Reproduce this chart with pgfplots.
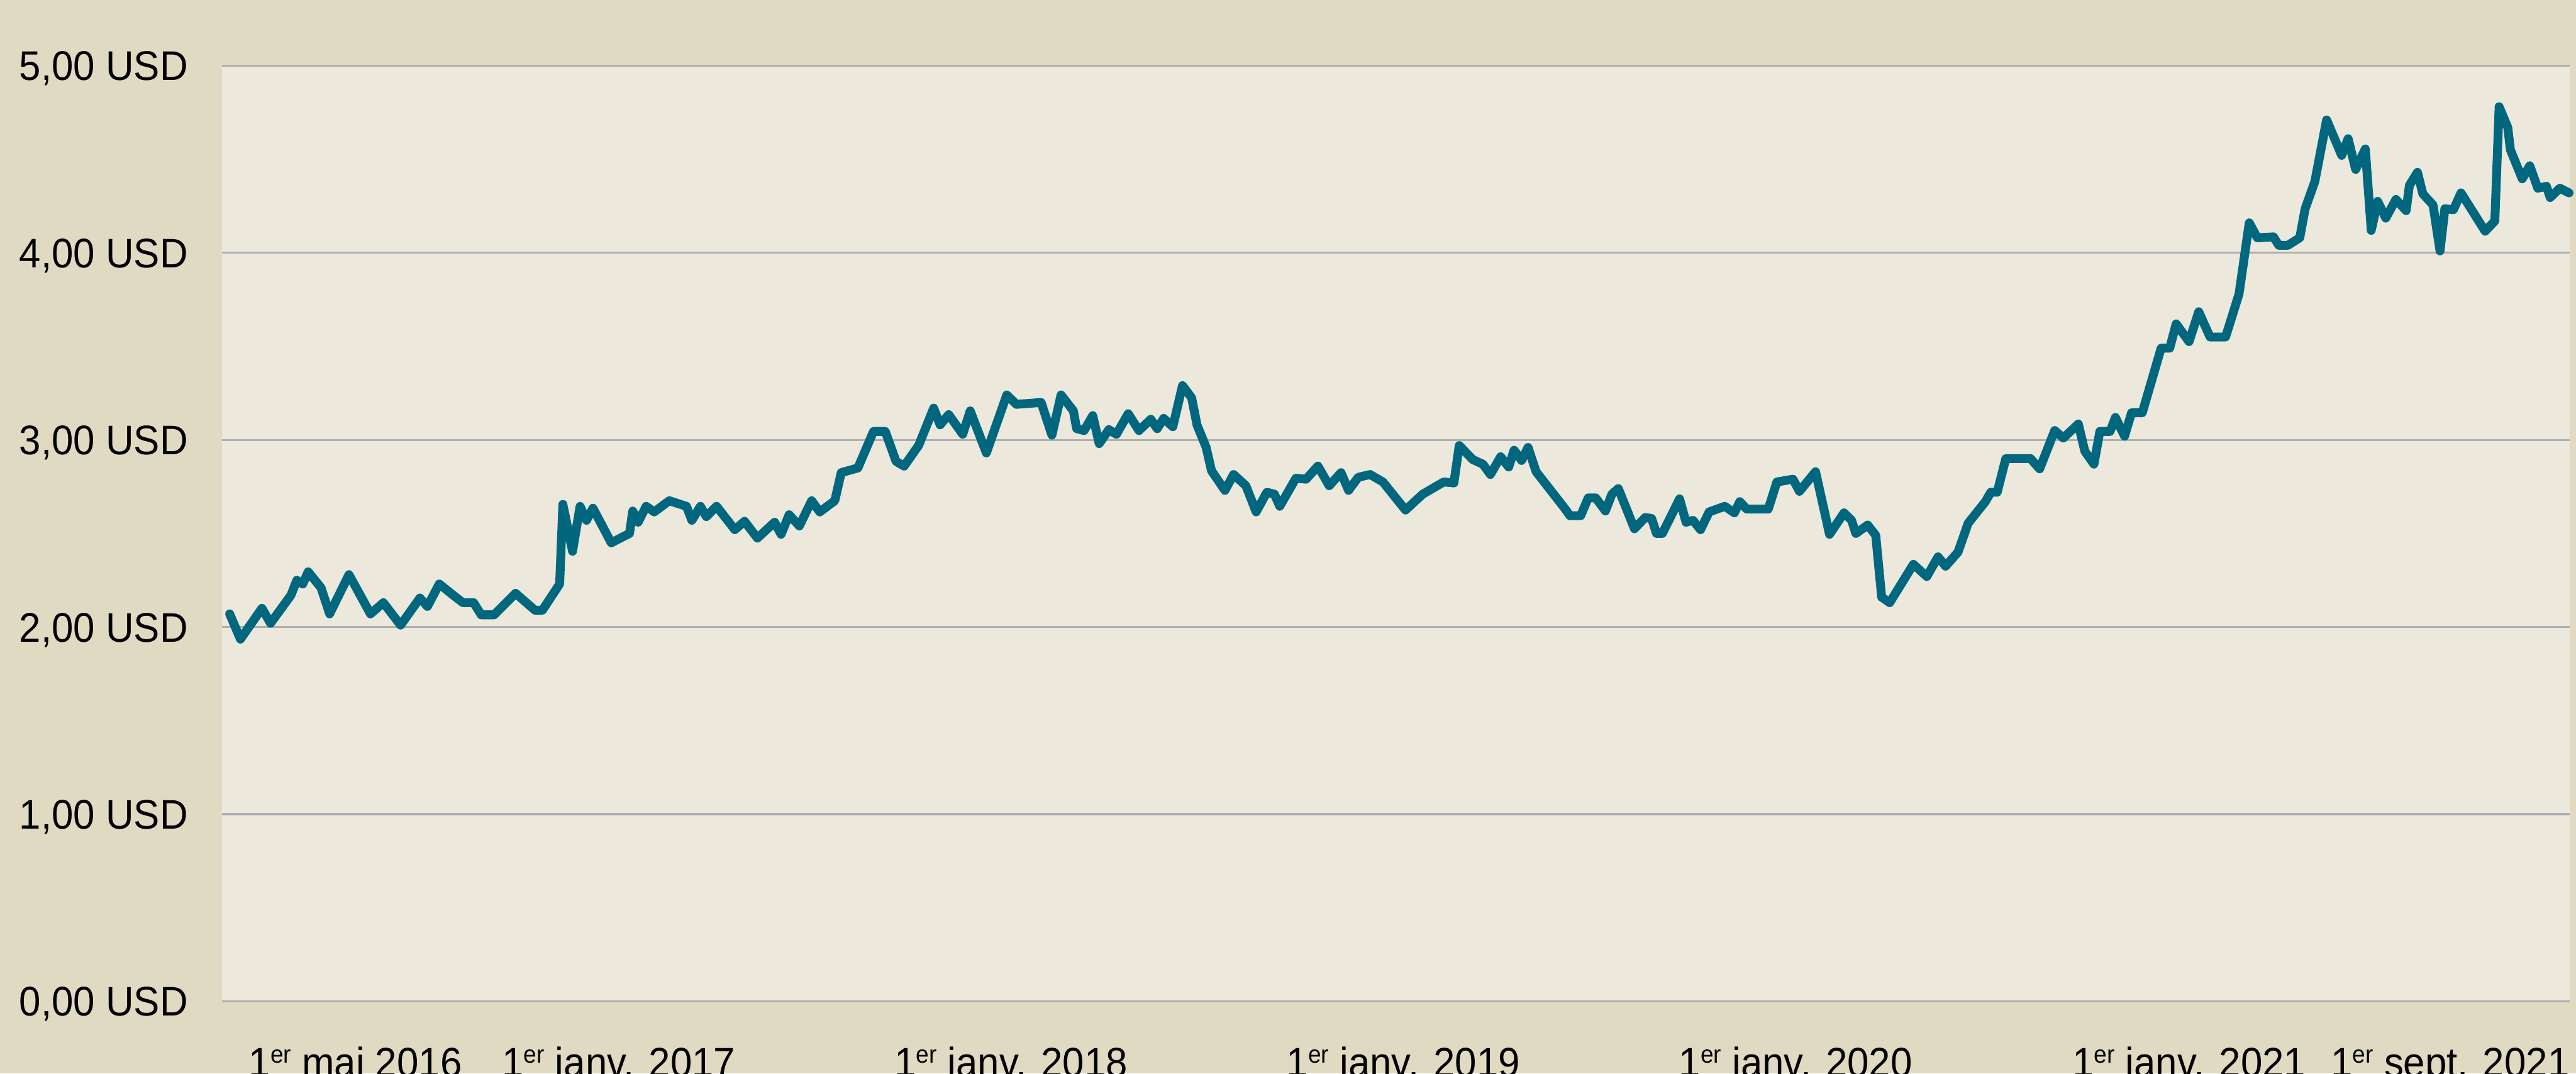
\documentclass[border=0pt]{standalone}
\usepackage{fontspec}
\setmainfont{Liberation Sans}[FakeStretch=0.94]
\usepackage{pgfplots}
\pgfplotsset{compat=1.18}
\definecolor{outerbg}{RGB}{224,218,194}
\definecolor{plotbg}{RGB}{236,232,220}
\definecolor{linecol}{RGB}{0,103,127}
\definecolor{gridcol}{RGB}{174,175,178}
\newcommand\er{\raisebox{2.4pt}{\fontsize{4.2}{4.2}\selectfont er}}
\begin{document}
\begin{tikzpicture}
\fill[outerbg] (-37.6pt,-12.2pt) rectangle (398.4pt,169.4pt);
\begin{axis}[
  at={(0,0)}, anchor=south west,
  scale only axis, width=397.3pt, height=158.3pt,
  xmin=-3, xmax=2181, ymin=0, ymax=5,
  axis line style={draw=none},
  axis background/.style={fill=plotbg},
  ytick={0,1,2,3,4,5},
  yticklabels={{0,00 USD},{1,00 USD},{2,00 USD},{3,00 USD},{4,00 USD},{5,00 USD}},
  xtick={121,366,731,1096,1461,1827,2070},
  xticklabels={{1\er{} mai 2016},{1\er{} janv. 2017},{1\er{} janv. 2018},{1\er{} janv. 2019},{1\er{} janv. 2020},{1\er{} janv. 2021},{1\er{} sept. 2021}},
  major tick length=0pt,
  ymajorgrids, grid style={gridcol, line width=0.33pt},
  tick label style={font=\fontsize{7}{8}\selectfont},
  yticklabel style={anchor=base east, inner sep=0pt, xshift=-5.6pt, yshift=-2.5pt},
  xticklabel style={anchor=base, inner sep=0pt, yshift=-12.8pt},
  clip=false,
]
\addplot[linecol, line width=1.5pt, line join=round, line cap=round] table {
4 2.07
14 1.935
34 2.10
42 2.02
61 2.17
66.5 2.25
72 2.23
77 2.295
89 2.21
97 2.07
115 2.28
135 2.07
147 2.13
163 2.01
181 2.155
188 2.11
199 2.23
212 2.17
221 2.13
231 2.13
238 2.065
250 2.065
270 2.18
288 2.09
295 2.09
311 2.23
314 2.655
323 2.405
330 2.645
336 2.57
342 2.635
359 2.45
376 2.50
379 2.62
384 2.56
391.5 2.645
399 2.615
413 2.675
429 2.645
434 2.57
442 2.645
447.5 2.59
457 2.645
474 2.52
483 2.565
495 2.475
511 2.56
517 2.495
524.5 2.60
534 2.54
545.5 2.675
553 2.615
567 2.675
573 2.825
588.5 2.85
603 3.045
614 3.045
624 2.885
631.5 2.86
645 2.97
659 3.17
665 3.08
673 3.135
686 3.03
693 3.155
708 2.93
727 3.24
736 3.19
759 3.20
769 3.025
777.5 3.24
789 3.155
792 3.06
799 3.05
807 3.13
813 2.98
822 3.055
829 3.03
840 3.14
850 3.05
861 3.11
867 3.06
873 3.115
881.5 3.07
890.5 3.29
899 3.225
904 3.08
912.5 2.96
917.5 2.835
930 2.73
938 2.815
949.5 2.755
959 2.615
969 2.72
976 2.71
981 2.645
996 2.795
1005.5 2.79
1016.5 2.86
1027 2.755
1038 2.825
1045 2.73
1054 2.80
1065 2.815
1077 2.775
1098 2.625
1114 2.71
1133.5 2.775
1143 2.77
1148 2.97
1160.5 2.895
1170 2.87
1177 2.815
1186.5 2.91
1194 2.855
1199 2.945
1206 2.89
1212 2.96
1219.5 2.83
1246 2.635
1251 2.595
1261 2.595
1268 2.69
1275 2.69
1284 2.62
1290 2.71
1296 2.74
1311 2.525
1321 2.585
1327 2.58
1331.5 2.50
1337 2.50
1353 2.685
1359 2.56
1365.5 2.57
1372.5 2.52
1380.5 2.615
1395 2.645
1404 2.61
1409 2.67
1415.5 2.63
1435.5 2.63
1443.5 2.775
1458.5 2.79
1464.5 2.725
1479.5 2.83
1492.5 2.495
1506 2.61
1513 2.57
1517 2.50
1528 2.545
1535.5 2.49
1541 2.16
1548.5 2.13
1570.5 2.335
1583 2.27
1593.5 2.375
1600.5 2.325
1612 2.40
1621.5 2.555
1637.5 2.67
1642.5 2.72
1648.5 2.72
1656.5 2.90
1679.5 2.90
1688 2.845
1702 3.05
1710 3.01
1724 3.085
1730 2.94
1738.5 2.87
1744 3.045
1753.5 3.045
1758.5 3.12
1767 3.02
1773.5 3.145
1783.5 3.145
1801 3.49
1809 3.49
1815 3.62
1827 3.525
1836 3.685
1846.5 3.55
1861 3.55
1873.5 3.78
1883 4.16
1890.5 4.08
1905.5 4.085
1910.5 4.04
1919 4.04
1930 4.08
1935 4.235
1944 4.38
1955 4.71
1969 4.52
1975 4.61
1982 4.445
1991 4.555
1996.5 4.12
2002.5 4.275
2010 4.185
2019.5 4.285
2029 4.225
2032 4.36
2039.5 4.43
2044.5 4.315
2054 4.255
2060.5 4.01
2065 4.235
2073 4.23
2080 4.32
2102.5 4.115
2111.5 4.17
2115.5 4.78
2123.5 4.67
2126 4.55
2137 4.395
2144 4.465
2151.5 4.345
2159.5 4.355
2163 4.295
2172 4.345
2180.5 4.32
};
\end{axis}
\pgfresetboundingbox
\useasboundingbox (-37.6pt,-12.2pt) rectangle (398.4pt,169.4pt);
\end{tikzpicture}
\end{document}
